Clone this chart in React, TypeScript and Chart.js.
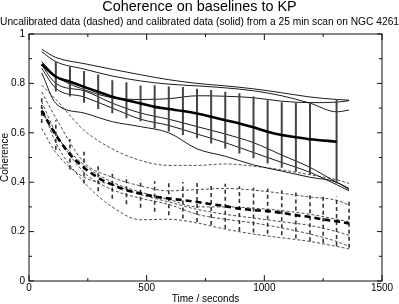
import React, { useEffect, useRef } from 'react';
import { Chart, registerables } from 'chart.js';

Chart.register(...registerables);

// ---- data ----
const calMeanTimes = [54, 114, 174, 234, 294, 354, 414, 474, 534, 594, 654, 714, 774, 834, 894, 954, 1014, 1074, 1134, 1194, 1307];
const calMean = [0.878, 0.827, 0.807, 0.786, 0.766, 0.746, 0.732, 0.719, 0.705, 0.696, 0.688, 0.678, 0.665, 0.651, 0.638, 0.622, 0.604, 0.591, 0.582, 0.574, 0.564];
const calErr = [0, 0.06, 0.06, 0.064, 0.07, 0.067, 0.073, 0.072, 0.088, 0.091, 0.097, 0.1, 0.108, 0.115, 0.122, 0.125, 0.128, 0.133, 0.14, 0.144, 0.169];

const uncalTimes = [54, 114, 174, 234, 294, 354, 414, 474, 534, 594, 654, 714, 774, 834, 894, 954, 1014, 1074, 1134, 1194, 1250, 1307, 1360];
const uncalMean = [0.69, 0.591, 0.513, 0.459, 0.418, 0.39, 0.368, 0.354, 0.342, 0.334, 0.327, 0.32, 0.311, 0.303, 0.293, 0.287, 0.283, 0.276, 0.266, 0.259, 0.249, 0.242, 0.233];
const uncalErr = [0.05, 0.06, 0.062, 0.064, 0.055, 0.057, 0.057, 0.057, 0.062, 0.068, 0.074, 0.081, 0.084, 0.091, 0.091, 0.091, 0.092, 0.091, 0.094, 0.098, 0.094, 0.1, 0.098];

const lineTimes = [54, 114, 234, 354, 474, 594, 714, 834, 954, 1074, 1194, 1307, 1360];
const calA = [0.938, 0.905, 0.88, 0.857, 0.835, 0.815, 0.8, 0.79, 0.778, 0.762, 0.745, 0.735, 0.732];
const calB = [0.928, 0.888, 0.858, 0.83, 0.81, 0.797, 0.79, 0.782, 0.77, 0.75, 0.72, 0.685, 0.692];
const calC = [0.888, 0.83, 0.775, 0.742, 0.735, 0.738, 0.75, 0.748, 0.742, 0.728, 0.722, 0.724, 0.73];
const calD = [0.874, 0.8, 0.77, 0.72, 0.68, 0.655, 0.625, 0.595, 0.56, 0.51, 0.46, 0.4, 0.375];
const calE = [0.861, 0.78, 0.745, 0.7, 0.655, 0.63, 0.595, 0.56, 0.52, 0.48, 0.44, 0.39, 0.365];
const calF = [0.843, 0.719, 0.68, 0.645, 0.625, 0.6, 0.535, 0.505, 0.47, 0.445, 0.42, 0.4, 0.37];

const uncalP = [0.793, 0.735, 0.61, 0.535, 0.488, 0.468, 0.468, 0.474, 0.465, 0.45, 0.43, 0.41, 0.395];
const uncalQ = [0.765, 0.66, 0.48, 0.42, 0.385, 0.365, 0.37, 0.375, 0.368, 0.355, 0.34, 0.327, 0.307];
const uncalR = [0.618, 0.52, 0.42, 0.39, 0.35, 0.32, 0.29, 0.27, 0.255, 0.24, 0.225, 0.2, 0.185];
const uncalS = [0.726, 0.6, 0.44, 0.37, 0.335, 0.31, 0.27, 0.25, 0.235, 0.215, 0.19, 0.16, 0.14];
const uncalT = [0.686, 0.59, 0.47, 0.4, 0.36, 0.33, 0.3, 0.3, 0.295, 0.285, 0.27, 0.25, 0.24];
const uncalU = [0.706, 0.56, 0.4, 0.3, 0.248, 0.25, 0.235, 0.21, 0.19, 0.175, 0.16, 0.14, 0.13];

const xTickStep = 500;
const yTickStep = 0.2;

const titleText = 'Coherence on baselines to KP';
const subtitleText = 'Uncalibrated data (dashed) and calibrated data (solid) from a 25 min scan on NGC 4261';
const xTitle = 'Time / seconds';
const yTitle = 'Coherence';

// ---- helpers ----
const pts = (times: number[], vals: number[]) => times.map((t, i) => ({ x: t, y: vals[i] }));
const errPts = (times: number[], mean: number[], err: number[]) => {
  const out: any[] = [];
  times.forEach((t, i) => {
    if (!err[i]) return;
    out.push({ x: t, y: mean[i] - err[i] });
    out.push({ x: t, y: mean[i] + err[i] });
    out.push({ x: t, y: null });
  });
  return out;
};

const framePlugin = {
  id: 'frameTicks',
  afterDatasetsDraw(chart: any) {
    const { ctx, chartArea: a, scales } = chart;
    const xs = scales.x;
    const ys = scales.y;
    ctx.save();
    ctx.strokeStyle = '#111';
    ctx.lineWidth = 1;
    ctx.strokeRect(a.left, a.top, a.right - a.left, a.bottom - a.top);
    const seg = (x1: number, y1: number, x2: number, y2: number) => {
      ctx.beginPath();
      ctx.moveTo(x1, y1);
      ctx.lineTo(x2, y2);
      ctx.stroke();
    };
    const xv = xs.ticks.map((t: any) => t.value);
    const yv = ys.ticks.map((t: any) => t.value);
    const xMinor: number[] = [];
    for (let i = 0; i < xv.length - 1; i++) xMinor.push((xv[i] + xv[i + 1]) / 2);
    const yMinor: number[] = [];
    for (let i = 0; i < yv.length - 1; i++) yMinor.push((yv[i] + yv[i + 1]) / 2);
    const xTick = (v: number, len: number) => {
      const p = xs.getPixelForValue(v);
      seg(p, a.bottom, p, a.bottom - len);
      seg(p, a.top, p, a.top + len);
    };
    const yTick = (v: number, len: number) => {
      const p = ys.getPixelForValue(v);
      seg(a.left, p, a.left + len, p);
      seg(a.right, p, a.right - len, p);
    };
    xv.forEach((v: number) => xTick(v, 6));
    xMinor.forEach((v) => xTick(v, 3));
    yv.forEach((v: number) => yTick(v, 5));
    yMinor.forEach((v) => yTick(v, 3));
    ctx.restore();
  },
};

export default function App() {
  const ref = useRef<HTMLCanvasElement>(null);
  useEffect(() => {
    const family = '"Liberation Sans", Arial, Helvetica, sans-serif';
    const thin = (d: any[]) => ({
      data: d,
      borderColor: '#000',
      borderWidth: 0.9,
      pointRadius: 0,
      cubicInterpolationMode: 'monotone' as const,
      fill: false,
    });
    const thinDash = (d: any[]) => ({
      data: d,
      borderColor: '#222',
      borderWidth: 0.8,
      borderDash: [3, 2],
      pointRadius: 0,
      cubicInterpolationMode: 'monotone' as const,
      fill: false,
    });
    const chart = new Chart(ref.current as HTMLCanvasElement, {
      type: 'line',
      data: {
        datasets: [
          {
            data: pts(calMeanTimes, calMean),
            borderColor: '#000',
            borderWidth: 2.6,
            pointRadius: 0,
            cubicInterpolationMode: 'monotone',
          },
          {
            data: pts(uncalTimes, uncalMean),
            borderColor: '#000',
            borderWidth: 2.6,
            borderDash: [6, 4],
            pointRadius: 0,
            cubicInterpolationMode: 'monotone',
          },
          {
            data: errPts(calMeanTimes, calMean, calErr),
            borderColor: '#444',
            borderWidth: 2,
            pointRadius: 0,
            spanGaps: false,
            tension: 0,
          },
          {
            data: errPts(uncalTimes, uncalMean, uncalErr),
            borderColor: '#333',
            borderWidth: 1.6,
            borderDash: [4, 3],
            pointRadius: 0,
            spanGaps: false,
            tension: 0,
          },
          thin(pts(lineTimes, calA)),
          thin(pts(lineTimes, calB)),
          thin(pts(lineTimes, calC)),
          thin(pts(lineTimes, calD)),
          thin(pts(lineTimes, calE)),
          thin(pts(lineTimes, calF)),
          thinDash(pts(lineTimes, uncalP)),
          thinDash(pts(lineTimes, uncalQ)),
          thinDash(pts(lineTimes, uncalR)),
          thinDash(pts(lineTimes, uncalS)),
          thinDash(pts(lineTimes, uncalT)),
          thinDash(pts(lineTimes, uncalU)),
        ] as any,
      },
      options: {
        responsive: false,
        animation: false,
        devicePixelRatio: 1,
        layout: { padding: 0 },
        font: { family } as any,
        plugins: {
          legend: { display: false },
          tooltip: { enabled: false },
          title: {
            display: true,
            text: titleText,
            color: '#000',
            font: { family, size: 14.4, weight: 'normal', lineHeight: 1 },
            padding: { top: 0, bottom: 2 },
          },
          subtitle: {
            display: true,
            text: subtitleText,
            color: '#000',
            font: { family, size: 10.8, weight: 'normal', lineHeight: 1 },
            padding: { top: 0, bottom: 6.8 },
          },
        } as any,
        scales: {
          x: {
            type: 'linear',
            min: 0,
            max: 1500,
            ticks: {
              stepSize: xTickStep,
              color: '#000',
              font: { family, size: 10 },
              padding: 1,
              maxRotation: 0,
              callback: (v: any) => String(v),
            },
            grid: { display: false, drawTicks: false },
            border: { display: false },
            title: {
              display: true,
              text: xTitle,
              color: '#000',
              font: { family, size: 10, lineHeight: 1 },
              padding: { top: 0, bottom: 0 },
            },
            afterFit: (s: any) => {
              s.height = 23;
            },
          },
          y: {
            type: 'linear',
            min: 0,
            max: 1,
            ticks: {
              stepSize: yTickStep,
              color: '#000',
              font: { family, size: 10 },
              padding: 4,
              callback: (v: any) => String(+Number(v).toFixed(1)),
            },
            grid: { display: false, drawTicks: false },
            border: { display: false },
            title: {
              display: true,
              text: yTitle,
              color: '#000',
              font: { family, size: 10, lineHeight: 1 },
              padding: { top: 0, bottom: 0 },
            },
            afterFit: (s: any) => {
              s.width = 29;
            },
          },
          y2: {
            type: 'linear',
            position: 'right',
            min: 0,
            max: 1,
            ticks: { display: false },
            grid: { display: false, drawTicks: false },
            border: { display: false },
            afterFit: (s: any) => {
              s.width = 17;
            },
          },
        } as any,
      },
      plugins: [framePlugin],
    });
    return () => chart.destroy();
  }, []);
  return (
    <div style={{ position: 'absolute', left: 0, top: 0, width: 399, height: 304, background: '#fff' }}>
      <canvas ref={ref} width={399} height={304} style={{ display: 'block' }} />
    </div>
  );
}
